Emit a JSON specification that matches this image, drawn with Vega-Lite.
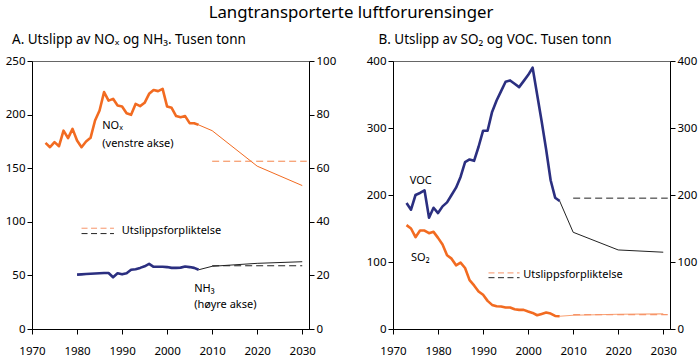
{
  "$schema": "https://vega.github.io/schema/vega-lite/v6.json",
  "padding": {"left": 4, "top": 5, "right": 2, "bottom": 2},
  "title": {"text": "Langtransporterte luftforurensinger", "fontSize": 16.8, "font": "Noto Sans", "fontWeight": "normal", "anchor": "middle", "color": "#000", "offset": 10},
  "config": {
    "font": "Noto Sans",
    "view": {"stroke": "#666", "strokeWidth": 1},
    "axis": {"grid": false, "domainColor": "#000", "tickColor": "#000", "labelColor": "#000", "labelFontSize": 11.5, "labelFont": "Noto Sans", "tickSize": 5, "labelPadding": 2},
    "title": {"font": "Noto Sans", "color": "#000"}
  },
  "bounds": "flush",
  "spacing": 84,
  "hconcat": [
    {
      "width": 277,
      "height": 268,
      "title": {"text": "A. Utslipp av NOₓ og NH₃. Tusen tonn", "anchor": "start", "frame": "group", "dx": -20, "fontSize": 13.5, "fontWeight": "normal", "offset": 9},
      "data": {"values": [
        {"s": "NOx", "year": 1973, "v": 173.6}, {"s": "NOx", "year": 1974, "v": 169.6}, {"s": "NOx", "year": 1975, "v": 174.3}, {"s": "NOx", "year": 1976, "v": 170.5}, {"s": "NOx", "year": 1977, "v": 185},
        {"s": "NOx", "year": 1978, "v": 178}, {"s": "NOx", "year": 1979, "v": 186.7}, {"s": "NOx", "year": 1980, "v": 175.8}, {"s": "NOx", "year": 1981, "v": 169.6}, {"s": "NOx", "year": 1982, "v": 174.9},
        {"s": "NOx", "year": 1983, "v": 178.3}, {"s": "NOx", "year": 1984, "v": 194.5}, {"s": "NOx", "year": 1985, "v": 203.8}, {"s": "NOx", "year": 1986, "v": 221}, {"s": "NOx", "year": 1987, "v": 213},
        {"s": "NOx", "year": 1988, "v": 214.7}, {"s": "NOx", "year": 1989, "v": 208.5}, {"s": "NOx", "year": 1990, "v": 207.6}, {"s": "NOx", "year": 1991, "v": 201.3}, {"s": "NOx", "year": 1992, "v": 199.8},
        {"s": "NOx", "year": 1993, "v": 210}, {"s": "NOx", "year": 1994, "v": 207.9}, {"s": "NOx", "year": 1995, "v": 211}, {"s": "NOx", "year": 1996, "v": 219.4}, {"s": "NOx", "year": 1997, "v": 223},
        {"s": "NOx", "year": 1998, "v": 221.9}, {"s": "NOx", "year": 1999, "v": 224}, {"s": "NOx", "year": 2000, "v": 207.5}, {"s": "NOx", "year": 2001, "v": 206.3}, {"s": "NOx", "year": 2002, "v": 198.6},
        {"s": "NOx", "year": 2003, "v": 197.6}, {"s": "NOx", "year": 2004, "v": 198.6}, {"s": "NOx", "year": 2005, "v": 192}, {"s": "NOx", "year": 2006, "v": 192}, {"s": "NOx", "year": 2007, "v": 190.4},
        {"s": "NOxP", "year": 2007, "v": 190.4}, {"s": "NOxP", "year": 2010, "v": 185}, {"s": "NOxP", "year": 2020, "v": 151.9}, {"s": "NOxP", "year": 2030, "v": 133.8},
        {"s": "NOxT", "year": 2010, "v": 156.5}, {"s": "NOxT", "year": 2031, "v": 156.5},
        {"s": "NH3", "year": 1980, "v": 20.3}, {"s": "NH3", "year": 1981, "v": 20.4}, {"s": "NH3", "year": 1982, "v": 20.5}, {"s": "NH3", "year": 1983, "v": 20.6}, {"s": "NH3", "year": 1984, "v": 20.7},
        {"s": "NH3", "year": 1985, "v": 20.8}, {"s": "NH3", "year": 1986, "v": 20.9}, {"s": "NH3", "year": 1987, "v": 20.9}, {"s": "NH3", "year": 1988, "v": 19.3}, {"s": "NH3", "year": 1989, "v": 20.8},
        {"s": "NH3", "year": 1990, "v": 20.4}, {"s": "NH3", "year": 1991, "v": 20.8}, {"s": "NH3", "year": 1992, "v": 22.1}, {"s": "NH3", "year": 1993, "v": 22.3}, {"s": "NH3", "year": 1994, "v": 22.8},
        {"s": "NH3", "year": 1995, "v": 23.4}, {"s": "NH3", "year": 1996, "v": 24.3}, {"s": "NH3", "year": 1997, "v": 23.2}, {"s": "NH3", "year": 1998, "v": 23.2}, {"s": "NH3", "year": 1999, "v": 23.2},
        {"s": "NH3", "year": 2000, "v": 23.1}, {"s": "NH3", "year": 2001, "v": 22.8}, {"s": "NH3", "year": 2002, "v": 22.8}, {"s": "NH3", "year": 2003, "v": 22.9}, {"s": "NH3", "year": 2004, "v": 23.3},
        {"s": "NH3", "year": 2005, "v": 23.1}, {"s": "NH3", "year": 2006, "v": 22.8}, {"s": "NH3", "year": 2007, "v": 22.1},
        {"s": "NH3P", "year": 2007, "v": 22.1}, {"s": "NH3P", "year": 2010, "v": 23.4}, {"s": "NH3P", "year": 2020, "v": 24.5}, {"s": "NH3P", "year": 2030, "v": 25.1},
        {"s": "NH3T", "year": 2010, "v": 23.6}, {"s": "NH3T", "year": 2030, "v": 23.6},
        {"s": "legO", "year": 1981, "year2": 1988.2, "v": 94},
        {"s": "legK", "year": 1981, "year2": 1988.2, "v": 89},
        {"s": "lab", "year": 1985.6, "v": 189, "label": "NOₓ"},
        {"s": "lab", "year": 1985.6, "v": 173, "label": "(venstre akse)"},
        {"s": "lab", "year": 2006, "v": 37.5, "label": "NH₃"},
        {"s": "lab", "year": 2006, "v": 22.5, "label": "(høyre akse)"},
        {"s": "lab", "year": 1989.9, "v": 91, "label": "Utslippsforpliktelse"}
      ]},
      "encoding": {
        "x": {"field": "year", "type": "quantitative", "title": null, "scale": {"domain": [1970, 2031.5], "nice": false, "zero": false}, "axis": {"values": [1970, 1980, 1990, 2000, 2010, 2020, 2030], "format": "d", "labelFlush": false, "labelOverlap": false, "labelPadding": 11}}
      },
      "layer": [
        {
          "layer": [
            {"transform": [{"filter": "datum.s === 'NOx'"}], "mark": {"type": "line", "color": "#f26b21", "strokeWidth": 2.6, "strokeJoin": "round"},
             "encoding": {"y": {"field": "v", "type": "quantitative", "title": null, "scale": {"domain": [0, 250], "nice": false}, "axis": {"orient": "left", "values": [0, 50, 100, 150, 200, 250]}}}},
            {"transform": [{"filter": "datum.s === 'NOxP'"}], "mark": {"type": "line", "color": "#f26b21", "strokeWidth": 1},
             "encoding": {"y": {"field": "v", "type": "quantitative", "title": null, "scale": {"domain": [0, 250], "nice": false}, "axis": {"orient": "left", "values": [0, 50, 100, 150, 200, 250]}}}},
            {"transform": [{"filter": "datum.s === 'NOxT'"}], "mark": {"type": "line", "color": "#f4844a", "strokeWidth": 1, "strokeDash": [7, 4]},
             "encoding": {"y": {"field": "v", "type": "quantitative", "title": null, "scale": {"domain": [0, 250], "nice": false}, "axis": {"orient": "left", "values": [0, 50, 100, 150, 200, 250]}}}},
            {"transform": [{"filter": "datum.s === 'legO'"}], "mark": {"type": "rule", "color": "#f7956a", "strokeWidth": 1, "strokeDash": [6, 3.5]},
             "encoding": {"x2": {"field": "year2"}, "y": {"field": "v", "type": "quantitative", "title": null, "scale": {"domain": [0, 250], "nice": false}, "axis": {"orient": "left", "values": [0, 50, 100, 150, 200, 250]}}}},
            {"transform": [{"filter": "datum.s === 'legK'"}], "mark": {"type": "rule", "color": "#222", "strokeWidth": 1, "strokeDash": [6, 3.5]},
             "encoding": {"x2": {"field": "year2"}, "y": {"field": "v", "type": "quantitative", "title": null, "scale": {"domain": [0, 250], "nice": false}, "axis": {"orient": "left", "values": [0, 50, 100, 150, 200, 250]}}}},
            {"transform": [{"filter": "datum.s === 'lab'"}], "mark": {"type": "text", "align": "left", "baseline": "middle", "fontSize": 11, "color": "#000"},
             "encoding": {"text": {"field": "label"}, "y": {"field": "v", "type": "quantitative", "title": null, "scale": {"domain": [0, 250], "nice": false}, "axis": {"orient": "left", "values": [0, 50, 100, 150, 200, 250]}}}}
          ]
        },
        {
          "layer": [
            {"transform": [{"filter": "datum.s === 'NH3'"}], "mark": {"type": "line", "color": "#2b2f80", "strokeWidth": 2.6, "strokeJoin": "round"},
             "encoding": {"y": {"field": "v", "type": "quantitative", "title": null, "scale": {"domain": [0, 100], "nice": false}, "axis": {"orient": "right", "values": [0, 20, 40, 60, 80, 100]}}}},
            {"transform": [{"filter": "datum.s === 'NH3P'"}], "mark": {"type": "line", "color": "#222", "strokeWidth": 1},
             "encoding": {"y": {"field": "v", "type": "quantitative", "title": null, "scale": {"domain": [0, 100], "nice": false}, "axis": {"orient": "right", "values": [0, 20, 40, 60, 80, 100]}}}},
            {"transform": [{"filter": "datum.s === 'NH3T'"}], "mark": {"type": "line", "color": "#222", "strokeWidth": 1, "strokeDash": [7, 4]},
             "encoding": {"y": {"field": "v", "type": "quantitative", "title": null, "scale": {"domain": [0, 100], "nice": false}, "axis": {"orient": "right", "values": [0, 20, 40, 60, 80, 100]}}}}
          ]
        }
      ],
      "resolve": {"scale": {"y": "independent"}}
    },
    {
      "width": 277,
      "height": 268,
      "title": {"text": "B. Utslipp av SO₂ og VOC. Tusen tonn", "anchor": "start", "frame": "group", "dx": -14.5, "fontSize": 13.5, "fontWeight": "normal", "offset": 9},
      "data": {"values": [
        {"s": "VOC", "year": 1973, "v": 188}, {"s": "VOC", "year": 1974, "v": 178}, {"s": "VOC", "year": 1975, "v": 200}, {"s": "VOC", "year": 1976, "v": 203}, {"s": "VOC", "year": 1977, "v": 207},
        {"s": "VOC", "year": 1978, "v": 166}, {"s": "VOC", "year": 1979, "v": 181}, {"s": "VOC", "year": 1980, "v": 173}, {"s": "VOC", "year": 1981, "v": 183}, {"s": "VOC", "year": 1982, "v": 189},
        {"s": "VOC", "year": 1983, "v": 200}, {"s": "VOC", "year": 1984, "v": 211}, {"s": "VOC", "year": 1985, "v": 227}, {"s": "VOC", "year": 1986, "v": 249}, {"s": "VOC", "year": 1987, "v": 253},
        {"s": "VOC", "year": 1988, "v": 251}, {"s": "VOC", "year": 1989, "v": 272}, {"s": "VOC", "year": 1990, "v": 296}, {"s": "VOC", "year": 1991, "v": 296}, {"s": "VOC", "year": 1992, "v": 324},
        {"s": "VOC", "year": 1993, "v": 341}, {"s": "VOC", "year": 1994, "v": 355}, {"s": "VOC", "year": 1995, "v": 369}, {"s": "VOC", "year": 1996, "v": 371}, {"s": "VOC", "year": 1997, "v": 366},
        {"s": "VOC", "year": 1998, "v": 361}, {"s": "VOC", "year": 1999, "v": 370}, {"s": "VOC", "year": 2000, "v": 379}, {"s": "VOC", "year": 2001, "v": 390}, {"s": "VOC", "year": 2002, "v": 350},
        {"s": "VOC", "year": 2003, "v": 310}, {"s": "VOC", "year": 2004, "v": 268}, {"s": "VOC", "year": 2005, "v": 222}, {"s": "VOC", "year": 2006, "v": 196}, {"s": "VOC", "year": 2007, "v": 191},
        {"s": "VOCP", "year": 2007, "v": 191}, {"s": "VOCP", "year": 2010, "v": 144.4}, {"s": "VOCP", "year": 2020, "v": 118}, {"s": "VOCP", "year": 2030, "v": 114.6},
        {"s": "VOCT", "year": 2010, "v": 195.3}, {"s": "VOCT", "year": 2031, "v": 195.3},
        {"s": "SO2", "year": 1973, "v": 155}, {"s": "SO2", "year": 1974, "v": 150}, {"s": "SO2", "year": 1975, "v": 137}, {"s": "SO2", "year": 1976, "v": 147}, {"s": "SO2", "year": 1977, "v": 147},
        {"s": "SO2", "year": 1978, "v": 143}, {"s": "SO2", "year": 1979, "v": 145}, {"s": "SO2", "year": 1980, "v": 136}, {"s": "SO2", "year": 1981, "v": 126}, {"s": "SO2", "year": 1982, "v": 110},
        {"s": "SO2", "year": 1983, "v": 105}, {"s": "SO2", "year": 1984, "v": 95}, {"s": "SO2", "year": 1985, "v": 99}, {"s": "SO2", "year": 1986, "v": 91}, {"s": "SO2", "year": 1987, "v": 73},
        {"s": "SO2", "year": 1988, "v": 65}, {"s": "SO2", "year": 1989, "v": 56}, {"s": "SO2", "year": 1990, "v": 51}, {"s": "SO2", "year": 1991, "v": 42}, {"s": "SO2", "year": 1992, "v": 36},
        {"s": "SO2", "year": 1993, "v": 34}, {"s": "SO2", "year": 1994, "v": 33.5}, {"s": "SO2", "year": 1995, "v": 32}, {"s": "SO2", "year": 1996, "v": 32}, {"s": "SO2", "year": 1997, "v": 29.5},
        {"s": "SO2", "year": 1998, "v": 28.5}, {"s": "SO2", "year": 1999, "v": 28.5}, {"s": "SO2", "year": 2000, "v": 26}, {"s": "SO2", "year": 2001, "v": 24}, {"s": "SO2", "year": 2002, "v": 20.5},
        {"s": "SO2", "year": 2003, "v": 22.5}, {"s": "SO2", "year": 2004, "v": 24.5}, {"s": "SO2", "year": 2005, "v": 23}, {"s": "SO2", "year": 2006, "v": 19.5}, {"s": "SO2", "year": 2007, "v": 19},
        {"s": "SO2P", "year": 2007, "v": 19}, {"s": "SO2P", "year": 2010, "v": 20.5}, {"s": "SO2P", "year": 2020, "v": 22}, {"s": "SO2P", "year": 2030, "v": 22.6},
        {"s": "SO2T", "year": 2010, "v": 21.4}, {"s": "SO2T", "year": 2031, "v": 21.4},
        {"s": "legO", "year": 1991.2, "year2": 1998.1, "v": 83.7},
        {"s": "legK", "year": 1991.2, "year2": 1998.1, "v": 76.6},
        {"s": "lab", "year": 1973.7, "v": 221, "label": "VOC"},
        {"s": "lab", "year": 1974, "v": 106, "label": "SO₂"},
        {"s": "lab", "year": 1998.9, "v": 80, "label": "Utslippsforpliktelse"}
      ]},
      "encoding": {
        "x": {"field": "year", "type": "quantitative", "title": null, "scale": {"domain": [1970, 2031.5], "nice": false, "zero": false}, "axis": {"values": [1970, 1980, 1990, 2000, 2010, 2020, 2030], "format": "d", "labelFlush": false, "labelOverlap": false, "labelPadding": 11}}
      },
      "layer": [
        {
          "layer": [
            {"transform": [{"filter": "datum.s === 'VOCP'"}], "mark": {"type": "line", "color": "#222", "strokeWidth": 1},
             "encoding": {"y": {"field": "v", "type": "quantitative", "title": null, "scale": {"domain": [0, 400], "nice": false}, "axis": {"orient": "left", "values": [0, 100, 200, 300, 400]}}}},
            {"transform": [{"filter": "datum.s === 'VOCT'"}], "mark": {"type": "line", "color": "#222", "strokeWidth": 1, "strokeDash": [7, 4]},
             "encoding": {"y": {"field": "v", "type": "quantitative", "title": null, "scale": {"domain": [0, 400], "nice": false}, "axis": {"orient": "left", "values": [0, 100, 200, 300, 400]}}}},
            {"transform": [{"filter": "datum.s === 'VOC'"}], "mark": {"type": "line", "color": "#2b2f80", "strokeWidth": 2.6, "strokeJoin": "round"},
             "encoding": {"y": {"field": "v", "type": "quantitative", "title": null, "scale": {"domain": [0, 400], "nice": false}, "axis": {"orient": "left", "values": [0, 100, 200, 300, 400]}}}},
            {"transform": [{"filter": "datum.s === 'SO2P'"}], "mark": {"type": "line", "color": "#f8a274", "strokeWidth": 1.2},
             "encoding": {"y": {"field": "v", "type": "quantitative", "title": null, "scale": {"domain": [0, 400], "nice": false}, "axis": {"orient": "left", "values": [0, 100, 200, 300, 400]}}}},
            {"transform": [{"filter": "datum.s === 'SO2'"}], "mark": {"type": "line", "color": "#f26b21", "strokeWidth": 2.6, "strokeJoin": "round"},
             "encoding": {"y": {"field": "v", "type": "quantitative", "title": null, "scale": {"domain": [0, 400], "nice": false}, "axis": {"orient": "left", "values": [0, 100, 200, 300, 400]}}}},
            {"transform": [{"filter": "datum.s === 'legO'"}], "mark": {"type": "rule", "color": "#f7956a", "strokeWidth": 1, "strokeDash": [6, 3.5]},
             "encoding": {"x2": {"field": "year2"}, "y": {"field": "v", "type": "quantitative", "title": null, "scale": {"domain": [0, 400], "nice": false}, "axis": {"orient": "left", "values": [0, 100, 200, 300, 400]}}}},
            {"transform": [{"filter": "datum.s === 'legK'"}], "mark": {"type": "rule", "color": "#222", "strokeWidth": 1, "strokeDash": [6, 3.5]},
             "encoding": {"x2": {"field": "year2"}, "y": {"field": "v", "type": "quantitative", "title": null, "scale": {"domain": [0, 400], "nice": false}, "axis": {"orient": "left", "values": [0, 100, 200, 300, 400]}}}},
            {"transform": [{"filter": "datum.s === 'lab'"}], "mark": {"type": "text", "align": "left", "baseline": "middle", "fontSize": 11, "color": "#000"},
             "encoding": {"text": {"field": "label"}, "y": {"field": "v", "type": "quantitative", "title": null, "scale": {"domain": [0, 400], "nice": false}, "axis": {"orient": "left", "values": [0, 100, 200, 300, 400]}}}}
          ]
        },
        {
          "layer": [
            {"transform": [{"filter": "datum.s === 'SO2T'"}], "mark": {"type": "line", "color": "#f7956a", "strokeWidth": 1.2, "strokeDash": [7, 4]},
             "encoding": {"y": {"field": "v", "type": "quantitative", "title": null, "scale": {"domain": [0, 400], "nice": false}, "axis": {"orient": "right", "values": [0, 100, 200, 300, 400]}}}}
          ]
        }
      ],
      "resolve": {"scale": {"y": "independent"}}
    }
  ]
}
